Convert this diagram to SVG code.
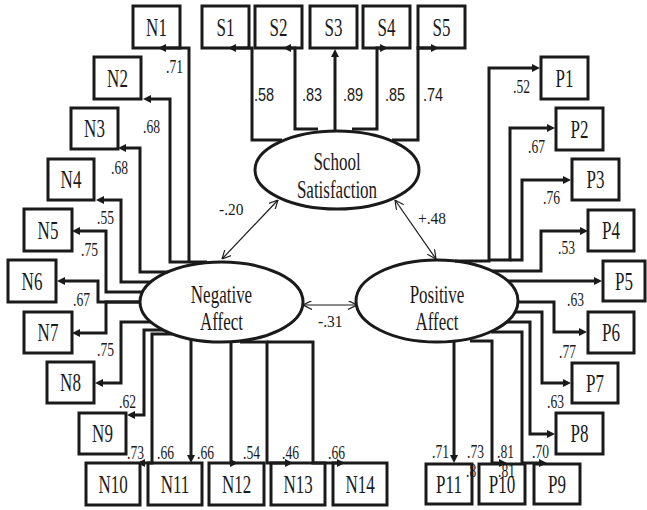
<svg xmlns="http://www.w3.org/2000/svg" width="647" height="510" viewBox="0 0 647 510">
<style>
.bx{fill:#fff;stroke:#1a1a1a;stroke-width:3}
.el{fill:#fff;stroke:#1a1a1a;stroke-width:3}
.lb{font-family:"Liberation Serif","Times New Roman",serif;font-size:17px;fill:#1a1a1a;text-anchor:middle}
.n{font-family:"Liberation Serif","Times New Roman",serif;font-size:13.6px;fill:#1a1a1a}
.ns{font-family:"Liberation Sans",Arial,sans-serif;font-size:14.5px;fill:#1a1a1a}
.c{font-family:"Liberation Serif","Times New Roman",serif;font-size:15.5px;fill:#1a1a1a}
.ld{fill:none;stroke:#1a1a1a;stroke-width:3;marker-end:url(#ah)}
.cr{fill:none;stroke:#1a1a1a;stroke-width:1.2;marker-start:url(#oa);marker-end:url(#oa)}
</style>
<defs>
<marker id="ah" viewBox="0 0 10 10" refX="5" refY="5" markerWidth="9" markerHeight="8" markerUnits="userSpaceOnUse" orient="auto"><path d="M0,0 L10,5 L0,10 z" fill="#1a1a1a"/></marker>
<marker id="oa" viewBox="0 0 10 10" refX="10" refY="5" markerWidth="9" markerHeight="9" markerUnits="userSpaceOnUse" orient="auto-start-reverse"><path d="M0,0 L10,5 L0,10" fill="none" stroke="#1a1a1a" stroke-width="1.3"/></marker>
</defs>
<rect width="647" height="510" fill="#fff"/>

<g id="S1"><rect class="bx" x="202" y="6" width="47" height="42"/><text class="lb" transform="translate(225.5,36) scale(1,1.5)">S1</text></g>
<g id="S2"><rect class="bx" x="255" y="6" width="47" height="42"/><text class="lb" transform="translate(278.5,36) scale(1,1.5)">S2</text></g>
<g id="S3"><rect class="bx" x="310" y="6" width="47" height="42"/><text class="lb" transform="translate(333.5,36) scale(1,1.5)">S3</text></g>
<g id="S4"><rect class="bx" x="363" y="6" width="47" height="42"/><text class="lb" transform="translate(386.5,36) scale(1,1.5)">S4</text></g>
<g id="S5"><rect class="bx" x="418" y="6" width="47" height="42"/><text class="lb" transform="translate(441.5,36) scale(1,1.5)">S5</text></g>

<g id="N1"><rect class="bx" x="133" y="6" width="47" height="42"/><text class="lb" transform="translate(156.5,36) scale(1,1.5)">N1</text></g>
<g id="N2"><rect class="bx" x="94" y="57" width="47" height="42"/><text class="lb" transform="translate(117.5,87) scale(1,1.5)">N2</text></g>
<g id="N3"><rect class="bx" x="71" y="108" width="47" height="41"/><text class="lb" transform="translate(94.5,137) scale(1,1.5)">N3</text></g>
<g id="N4"><rect class="bx" x="48" y="159" width="46" height="41"/><text class="lb" transform="translate(71,188) scale(1,1.5)">N4</text></g>
<g id="N5"><rect class="bx" x="24" y="209" width="48" height="42"/><text class="lb" transform="translate(48,239) scale(1,1.5)">N5</text></g>
<g id="N6"><rect class="bx" x="8" y="260" width="48" height="42"/><text class="lb" transform="translate(32,290) scale(1,1.5)">N6</text></g>
<g id="N7"><rect class="bx" x="24" y="312" width="48" height="41"/><text class="lb" transform="translate(48,341) scale(1,1.5)">N7</text></g>
<g id="N8"><rect class="bx" x="47" y="362" width="47" height="41"/><text class="lb" transform="translate(70.5,391) scale(1,1.5)">N8</text></g>
<g id="N9"><rect class="bx" x="79" y="413" width="47" height="41"/><text class="lb" transform="translate(102.5,442) scale(1,1.5)">N9</text></g>
<g id="N10"><rect class="bx" x="86" y="463" width="54" height="42"/><text class="lb" transform="translate(113,493) scale(1,1.5)">N10</text></g>
<g id="N11"><rect class="bx" x="148" y="463" width="54" height="42"/><text class="lb" transform="translate(175,493) scale(1,1.5)">N11</text></g>
<g id="N12"><rect class="bx" x="209" y="463" width="55" height="42"/><text class="lb" transform="translate(236.5,493) scale(1,1.5)">N12</text></g>
<g id="N13"><rect class="bx" x="271" y="463" width="54" height="42"/><text class="lb" transform="translate(298,493) scale(1,1.5)">N13</text></g>
<g id="N14"><rect class="bx" x="333" y="463" width="54" height="42"/><text class="lb" transform="translate(360,493) scale(1,1.5)">N14</text></g>

<g id="P1"><rect class="bx" x="541" y="57" width="47" height="42"/><text class="lb" transform="translate(564.5,87) scale(1,1.5)">P1</text></g>
<g id="P2"><rect class="bx" x="556" y="108" width="47" height="42"/><text class="lb" transform="translate(579.5,138) scale(1,1.5)">P2</text></g>
<g id="P3"><rect class="bx" x="572" y="159" width="47" height="41"/><text class="lb" transform="translate(595.5,188) scale(1,1.5)">P3</text></g>
<g id="P4"><rect class="bx" x="588" y="210" width="46" height="41"/><text class="lb" transform="translate(611,239) scale(1,1.5)">P4</text></g>
<g id="P5"><rect class="bx" x="603" y="261" width="42" height="40"/><text class="lb" transform="translate(624,290) scale(1,1.5)">P5</text></g>
<g id="P6"><rect class="bx" x="588" y="312" width="46" height="41"/><text class="lb" transform="translate(611,341) scale(1,1.5)">P6</text></g>
<g id="P7"><rect class="bx" x="572" y="363" width="46" height="40"/><text class="lb" transform="translate(595,392) scale(1,1.5)">P7</text></g>
<g id="P8"><rect class="bx" x="556" y="413" width="47" height="41"/><text class="lb" transform="translate(579.5,442) scale(1,1.5)">P8</text></g>
<g id="P9"><rect class="bx" x="534" y="464" width="46" height="40"/><text class="lb" transform="translate(557,493) scale(1,1.5)">P9</text></g>
<g id="P10"><rect class="bx" x="479" y="464" width="46" height="40"/><text class="lb" transform="translate(502,493) scale(1,1.5)">P10</text></g>
<g id="P11"><rect class="bx" x="426" y="464" width="46" height="40"/><text class="lb" transform="translate(449,493) scale(1,1.5)">P11</text></g>

<g id="SchoolSatisfaction"><ellipse class="el" cx="337" cy="170" rx="82" ry="39"/><text class="lb" transform="translate(337,170) scale(1,1.5)">School</text><text class="lb" transform="translate(337,198) scale(1,1.5)">Satisfaction</text></g>
<g id="NegativeAffect"><ellipse class="el" cx="221.5" cy="302" rx="81.5" ry="40"/><text class="lb" transform="translate(221.5,303) scale(1,1.5)">Negative</text><text class="lb" transform="translate(221.5,330) scale(1,1.5)">Affect</text></g>
<g id="PositiveAffect"><ellipse class="el" cx="437" cy="301" rx="81" ry="41"/><text class="lb" transform="translate(437,303) scale(1,1.5)">Positive</text><text class="lb" transform="translate(437,330) scale(1,1.5)">Affect</text></g>

<g id="connectors">
<path class="ld" d="M282,140 H252 V48 H232"/>
<path class="ld" d="M318,129 H295 V48 H287"/>
<path class="ld" d="M335,131 V53"/>
<path class="ld" d="M352,129 H377 V48 H384"/>
<path class="ld" d="M392,140 H418 V48 H435"/>
<path class="ld" d="M189,262 V48 H162"/>
<path class="ld" d="M207,262 H170 V99 H147"/>
<path class="ld" d="M168,272 H140 V148 H122"/>
<path class="ld" d="M151,282 H121 V200 H100"/>
<path class="ld" d="M143,292 H106 V231 H76"/>
<path class="ld" d="M141,302 H98 V281 H61"/>
<path class="ld" d="M141,302 H106 V333 H76"/>
<path class="ld" d="M151,322 H121 V383 H99"/>
<path class="ld" d="M163,330 H144 V415 H131"/>
<path class="ld" d="M172,334 H152 V463 H141"/>
<path class="ld" d="M191,339 V459"/>
<path class="ld" d="M231,342 V463 H234"/>
<path class="ld" d="M240,342 H267 V463 H289"/>
<path class="ld" d="M267,342 H313 V463 H341"/>
<path class="ld" d="M455,261 H489 V68 H536"/>
<path class="ld" d="M489,260 H510 V128 H551"/>
<path class="ld" d="M510,260 H522 V180 H567"/>
<path class="ld" d="M492,271 H541 V231 H584"/>
<path class="ld" d="M508,281 H598"/>
<path class="ld" d="M517,302 H554 V332 H583"/>
<path class="ld" d="M514,312 H542 V383 H567"/>
<path class="ld" d="M506,322 H530 V434 H551"/>
<path class="ld" d="M491,332 H522 V463 H543"/>
<path class="ld" d="M470,341 H492 V463 H503"/>
<path class="ld" d="M454,341 V459"/>
<path class="cr" d="M278,200 L222,259"/>
<path class="cr" d="M395,200 L436,259"/>
<path class="cr" d="M303,305 L357,305"/>
</g>

<g id="labels">
<text class="ns" transform="translate(254,101) scale(1,1.25)">.58</text>
<text class="ns" transform="translate(302,101) scale(1,1.25)">.83</text>
<text class="ns" transform="translate(343,101) scale(1,1.25)">.89</text>
<text class="ns" transform="translate(385,101) scale(1,1.25)">.85</text>
<text class="ns" transform="translate(423,101) scale(1,1.25)">.74</text>
<text class="n" transform="translate(166,73) scale(1,1.4)">.71</text>
<text class="n" transform="translate(143,133) scale(1,1.4)">.68</text>
<text class="n" transform="translate(111,174) scale(1,1.4)">.68</text>
<text class="n" transform="translate(97,224) scale(1,1.4)">.55</text>
<text class="n" transform="translate(81,256) scale(1,1.4)">.75</text>
<text class="n" transform="translate(73,306) scale(1,1.4)">.67</text>
<text class="n" transform="translate(97,356) scale(1,1.4)">.75</text>
<text class="n" transform="translate(119,408) scale(1,1.4)">.62</text>
<text class="n" transform="translate(127,459) scale(1,1.4)">.73</text>
<text class="n" transform="translate(157,459) scale(1,1.4)">.66</text>
<text class="n" transform="translate(197,459) scale(1,1.4)">.66</text>
<text class="n" transform="translate(243,459) scale(1,1.4)">.54</text>
<text class="n" transform="translate(282,459) scale(1,1.4)">.46</text>
<text class="n" transform="translate(328,459) scale(1,1.4)">.66</text>
<text class="n" transform="translate(513,93) scale(1,1.4)">.52</text>
<text class="n" transform="translate(528,153) scale(1,1.4)">.67</text>
<text class="n" transform="translate(543,204) scale(1,1.4)">.76</text>
<text class="n" transform="translate(558,254) scale(1,1.4)">.53</text>
<text class="n" transform="translate(567,306) scale(1,1.4)">.63</text>
<text class="n" transform="translate(559,358) scale(1,1.4)">.77</text>
<text class="n" transform="translate(547,408) scale(1,1.4)">.63</text>
<text class="n" transform="translate(432,458) scale(1,1.4)">.71</text>
<text class="n" transform="translate(467,458) scale(1,1.4)">.73</text>
<text class="n" transform="translate(497,458) scale(1,1.4)">.81</text>
<text class="n" transform="translate(532,458) scale(1,1.4)">.70</text>
<text class="n" transform="translate(466,477) scale(1,1.4)">.8</text>
<text class="n" transform="translate(498,477) scale(1,1.4)">.81</text>
<text class="c" transform="translate(219,215) scale(1,1.1)">-.20</text>
<text class="c" transform="translate(418,224) scale(1,1.1)">+.48</text>
<text class="c" transform="translate(318,327) scale(1,1.1)">-.31</text>
</g>
</svg>
